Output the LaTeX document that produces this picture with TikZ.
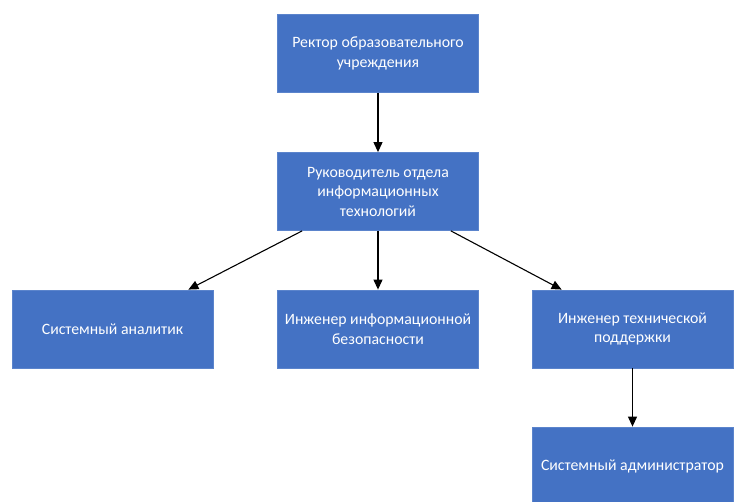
\documentclass[tikz,border=0pt]{standalone}
\usepackage{fontspec}
\setmainfont{Carlito}
\usetikzlibrary{arrows.meta}
\definecolor{boxblue}{HTML}{4472C4}
\definecolor{boxedge}{HTML}{5B84CC}
\tikzset{
  unit/.style={rectangle, fill=boxblue, draw=boxedge, line width=0.8pt,
    minimum width=201pt, minimum height=78pt, inner sep=0pt,
    text=white, align=center,
    font=\fontsize{15.8}{19.5}\selectfont},
  link/.style={line width=1.1pt, -{Triangle[length=10pt,width=9pt]}}
}
\begin{document}
\begin{tikzpicture}[x=1pt, y=-1pt]
  \useasboundingbox (0,0) rectangle (734,502);
  % management
  \node[unit] (rector) at (378,53.5) {Ректор образовательного\\учреждения};
  \node[unit] (head) at (378,191.5) {Руководитель отдела\\информационных\\технологий};
  % staff
  \node[unit] (analyst) at (112.5,329) {Системный аналитик};
  \node[unit] (security) at (378,329) {Инженер информационной\\безопасности};
  \node[unit] (support) at (632.5,329) {Инженер технической\\поддержки};
  \node[unit] (admin) at (632.5,466) {Системный администратор};
  % links
  \draw[link] (rector) -- (head);
  \draw[link] (head) -- (security);
  \draw[link] ([xshift=25pt]head.south west) -- ([xshift=-25pt]analyst.north east);
  \draw[link] ([xshift=-28pt]head.south east) -- ([xshift=30pt]support.north west);
  \draw[link] (support) -- (admin);
\end{tikzpicture}
\end{document}
